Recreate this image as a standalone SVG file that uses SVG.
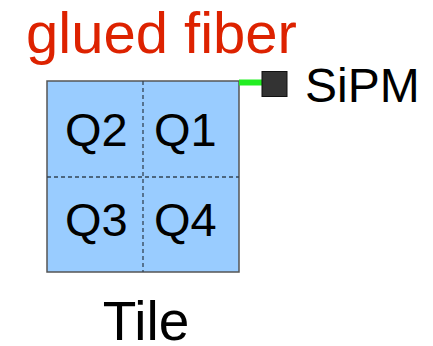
<svg xmlns="http://www.w3.org/2000/svg" width="433" height="346" viewBox="0 0 433 346">
<style>
text{font-family:"Liberation Sans",Arial,sans-serif}
.q{font-size:47px;fill:#000}
.dash{stroke:#334455;stroke-width:1.3;stroke-dasharray:4,3;fill:none}
</style>
<rect width="433" height="346" fill="#fff"/>
<g id="title"><text x="26" y="52.5" font-size="58" fill="#dd2200">glued fiber</text></g>
<g id="tile">
<rect x="47" y="81" width="192" height="191" fill="#99ccff" stroke="#555" stroke-width="1.5"/>
<line class="dash" x1="143" y1="81" x2="143" y2="272"/>
<line class="dash" x1="47" y1="177" x2="239" y2="177"/>
<text class="q" x="65" y="146">Q2</text>
<text class="q" x="154" y="146">Q1</text>
<text class="q" x="65" y="236">Q3</text>
<text class="q" x="154" y="236">Q4</text>
</g>
<g id="connectors"><line x1="239" y1="82.5" x2="262" y2="82.5" stroke="#22ee22" stroke-width="6"/></g>
<g id="sipm">
<rect x="262" y="71.5" width="25" height="25" fill="#333" stroke="#111" stroke-width="1"/>
<text x="305" y="102" font-size="48" fill="#000">SiPM</text>
</g>
<g id="label"><text x="146" y="340" font-size="55" text-anchor="middle" fill="#000">Tile</text></g>
</svg>
